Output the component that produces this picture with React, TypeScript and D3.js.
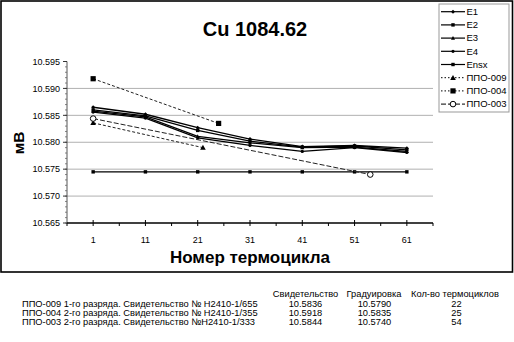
import React from "react";
import * as d3 from "d3";

const cycles = [1, 11, 21, 31, 41, 51, 61];
const e1 = [10.5865, 10.5852, 10.5827, 10.5806, 10.5792, 10.5794, 10.5789];
const e2 = [10.5860, 10.5849, 10.5822, 10.5802, 10.5791, 10.5793, 10.5786];
const e3 = [10.5858, 10.5847, 10.5811, 10.5799, 10.5790, 10.5791, 10.5783];
const e4 = [10.5856, 10.5845, 10.5808, 10.5794, 10.5783, 10.5790, 10.5781];
const ensx = [10.5745, 10.5745, 10.5745, 10.5745, 10.5745, 10.5745, 10.5745];

const ppo009X = [1, 22];
const ppo009Y = [10.5836, 10.579];
const ppo004X = [1, 25];
const ppo004Y = [10.5918, 10.5835];
const ppo003X = [1, 54];
const ppo003Y = [10.5844, 10.574];

const yTicks = [10.565, 10.57, 10.575, 10.58, 10.585, 10.59, 10.595];
const xTicks = [1, 11, 21, 31, 41, 51, 61];

const tableLabels = [
  "ППО-009 1-го разряда. Свидетельство № Н2410-1/655",
  "ППО-004 2-го разряда. Свидетельство № Н2410-1/355",
  "ППО-003 2-го разряда. Свидетельство №Н2410-1/333",
];
const tableHeaders = ["Свидетельство", "Градуировка", "Кол-во термоциклов"];
const tableCert = ["10.5836", "10.5918", "10.5844"];
const tableGrad = ["10.5790", "10.5835", "10.5740"];
const tableCycles = ["22", "25", "54"];

const FONT = "'Liberation Sans', Arial, sans-serif";

type Marker = "diamond" | "square" | "triangle" | "dot" | "bigTriangle" | "bigSquare" | "circle";

function MarkerShape({ kind, x, y }: { kind: Marker; x: number; y: number }) {
  switch (kind) {
    case "diamond":
      return <path d={`M${x - 2},${y} L${x},${y - 2} L${x + 2},${y} L${x},${y + 2} Z`} fill="#000" />;
    case "square":
      return <rect x={x - 1.7} y={y - 1.7} width={3.4} height={3.4} fill="#000" />;
    case "triangle":
      return <path d={`M${x - 2},${y + 1.6} L${x + 2},${y + 1.6} L${x},${y - 2} Z`} fill="#000" />;
    case "dot":
      return <circle cx={x} cy={y} r={1.6} fill="#000" />;
    case "bigTriangle":
      return <path d={`M${x - 2.8},${y + 2.2} L${x + 2.8},${y + 2.2} L${x},${y - 2.8} Z`} fill="#000" />;
    case "bigSquare":
      return <rect x={x - 2.6} y={y - 2.6} width={5.2} height={5.2} fill="#000" />;
    case "circle":
      return <circle cx={x} cy={y} r={2.8} fill="#fff" stroke="#000" strokeWidth={1} />;
  }
}

export default function App() {
  const x = d3.scaleLinear().domain([-4, 66]).range([67, 433]);
  const y = d3.scaleLinear().domain([10.565, 10.595]).range([223, 61.5]);
  const line = d3
    .line<[number, number]>()
    .x((d) => x(d[0]))
    .y((d) => y(d[1]));

  const eSeries: { name: string; vals: number[]; marker: Marker; w: number }[] = [
    { name: "E1", vals: e1, marker: "diamond", w: 1.3 },
    { name: "E2", vals: e2, marker: "square", w: 1.3 },
    { name: "E3", vals: e3, marker: "triangle", w: 1.3 },
    { name: "E4", vals: e4, marker: "dot", w: 1.3 },
    { name: "Ensx", vals: ensx, marker: "square", w: 1.1 },
  ];
  const pSeries: { name: string; xs: number[]; ys: number[]; marker: Marker; dash: string }[] = [
    { name: "ППО-009", xs: ppo009X, ys: ppo009Y, marker: "bigTriangle", dash: "3,2" },
    { name: "ППО-004", xs: ppo004X, ys: ppo004Y, marker: "bigSquare", dash: "3,2" },
    { name: "ППО-003", xs: ppo003X, ys: ppo003Y, marker: "circle", dash: "5,2" },
  ];
  const legendDash = ["none", "none", "none", "none", "none", "1.5,2", "1.5,2", "5,2"];

  const minorY = d3.range(10.565, 10.5951, 0.001);
  const minorX = [-4, 6, 16, 26, 36, 46, 56, 66];

  const legendItems = [
    ...eSeries.map((s) => ({ name: s.name, marker: s.marker })),
    ...pSeries.map((s) => ({ name: s.name, marker: s.marker })),
  ];

  const colCenters = [305.5, 374.5, 456.5];
  const rowBase = [307, 316, 325];
  const tfs = 9.3;

  return (
    <svg
      width={514}
      height={342}
      style={{ position: "absolute", left: 0, top: 0, background: "#fff" }}
      fontFamily={FONT}
    >
      <rect x={0} y={0} width={514} height={342} fill="#fff" />
      <rect x={1} y={1} width={511.5} height={271} fill="none" stroke="#000" strokeWidth={1.6} />

      <text x={255} y={36} textAnchor="middle" fontSize={20} fontWeight="bold">
        Cu 1084.62
      </text>

      {/* gridlines */}
      {yTicks.slice(1, -1).map((t) => (
        <line key={t} x1={67} x2={433} y1={y(t)} y2={y(t)} stroke="#b0b0b0" strokeWidth={1} />
      ))}

      {/* y axis */}
      <line x1={67} x2={67} y1={y(10.595)} y2={y(10.565)} stroke="#555" strokeWidth={1} />
      {minorY.map((t, i) => (
        <line key={"my" + i} x1={65} x2={67} y1={y(t)} y2={y(t)} stroke="#666" strokeWidth={0.8} />
      ))}
      {yTicks.map((t) => (
        <g key={"yt" + t}>
          <line x1={63} x2={67} y1={y(t)} y2={y(t)} stroke="#333" strokeWidth={1} />
          <text x={60} y={y(t) + 3.2} textAnchor="end" fontSize={9}>
            {t.toFixed(3)}
          </text>
        </g>
      ))}

      {/* x axis */}
      <line x1={67} x2={433} y1={223} y2={223} stroke="#000" strokeWidth={1.5} />
      {minorX.map((t) => (
        <line key={"mx" + t} x1={x(t)} x2={x(t)} y1={223} y2={226} stroke="#000" strokeWidth={1} />
      ))}
      {xTicks.map((t) => (
        <g key={"xt" + t}>
          <line x1={x(t)} x2={x(t)} y1={220} y2={226} stroke="#000" strokeWidth={1} />
          <text x={x(t)} y={243} textAnchor="middle" fontSize={9}>
            {t}
          </text>
        </g>
      ))}

      {/* axis titles */}
      <text x={250} y={263} textAnchor="middle" fontSize={17} fontWeight="bold">
        Номер термоцикла
      </text>
      <text
        transform={`translate(24,143) rotate(-90)`}
        textAnchor="middle"
        fontSize={15.5}
        fontWeight="bold"
      >
        мВ
      </text>

      {/* E series */}
      {eSeries.map((s) => {
        const pts = cycles.map((c, i) => [c, s.vals[i]] as [number, number]);
        return (
          <g key={s.name}>
            <path d={line(pts) || ""} fill="none" stroke="#000" strokeWidth={s.w} />
            {pts.map((p, i) => (
              <MarkerShape key={i} kind={s.marker} x={x(p[0])} y={y(p[1])} />
            ))}
          </g>
        );
      })}

      {/* ППО series */}
      {pSeries.map((s) => {
        const pts = s.xs.map((c, i) => [c, s.ys[i]] as [number, number]);
        return (
          <g key={s.name}>
            <path d={line(pts) || ""} fill="none" stroke="#222" strokeWidth={1} strokeDasharray={s.dash} />
            {pts.map((p, i) => (
              <MarkerShape key={i} kind={s.marker} x={x(p[0])} y={y(p[1])} />
            ))}
          </g>
        );
      })}

      {/* legend */}
      <rect x={439} y={4} width={70} height={108} fill="#fff" stroke="#999" strokeWidth={1} />
      {legendItems.map((it, i) => {
        const ly = 11.7 + i * 13.2;
        return (
          <g key={"lg" + it.name}>
            <line
              x1={441}
              x2={465}
              y1={ly}
              y2={ly}
              stroke="#000"
              strokeWidth={i < 5 ? 1.2 : 1}
              strokeDasharray={legendDash[i]}
            />
            <MarkerShape kind={it.marker} x={453} y={ly} />
            <text x={466.5} y={ly + 3.3} fontSize={9.5}>
              {it.name}
            </text>
          </g>
        );
      })}

      {/* table */}
      {tableHeaders.map((h, i) => (
        <text key={"th" + i} x={[305.5, 374, 455][i]} y={296.5} textAnchor="middle" fontSize={tfs}>
          {h}
        </text>
      ))}
      {tableLabels.map((l, r) => (
        <g key={"tr" + r}>
          <text x={22} y={rowBase[r]} fontSize={tfs}>
            {l}
          </text>
          <text x={colCenters[0]} y={rowBase[r]} textAnchor="middle" fontSize={tfs}>
            {tableCert[r]}
          </text>
          <text x={colCenters[1]} y={rowBase[r]} textAnchor="middle" fontSize={tfs}>
            {tableGrad[r]}
          </text>
          <text x={colCenters[2]} y={rowBase[r]} textAnchor="middle" fontSize={tfs}>
            {tableCycles[r]}
          </text>
        </g>
      ))}
    </svg>
  );
}
